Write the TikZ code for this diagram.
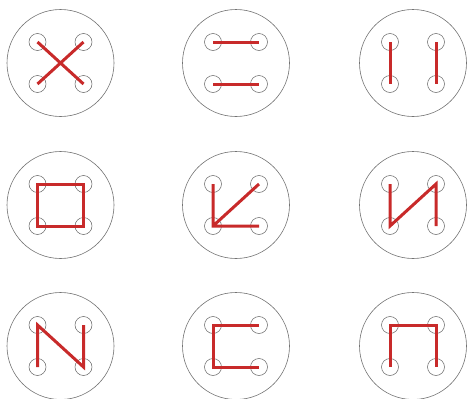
\documentclass[tikz,border=0pt]{standalone}
\definecolor{linered}{RGB}{200,42,42}
\begin{document}
\begin{tikzpicture}[x=1pt,y=-1pt,
  bigdisc/.style={circle,draw=black!55,line width=0.6pt,minimum size=107pt,inner sep=0pt},
  hole/.style={circle,draw=black!60,line width=0.5pt,minimum size=17pt,inner sep=0pt},
  stroke/.style={draw=linered,line width=3pt,line join=miter}]
\useasboundingbox (0,0) rectangle (467,399);
\foreach \n/\cx/\cy in {1/60.5/63, 2/236/63, 3/413/63, 4/60.5/205, 5/236/205, 6/413/205, 7/60.5/346, 8/236/346, 9/413/346} {
  \node[bigdisc] (c\n) at (\cx,\cy) {};
  \node[hole] (c\n-tl) at (\cx-23,\cy-21) {};
  \node[hole] (c\n-tr) at (\cx+23,\cy-21) {};
  \node[hole] (c\n-bl) at (\cx-23,\cy+21) {};
  \node[hole] (c\n-br) at (\cx+23,\cy+21) {};
}
% 1: X
\draw[stroke] (c1-tl.center) -- (c1-br.center) (c1-tr.center) -- (c1-bl.center);
% 2: two horizontals
\draw[stroke] (c2-tl.center) -- (c2-tr.center) (c2-bl.center) -- (c2-br.center);
% 3: two verticals
\draw[stroke] (c3-tl.center) -- (c3-bl.center) (c3-tr.center) -- (c3-br.center);
% 4: square
\draw[stroke] (c4-tl.center) -- (c4-tr.center) -- (c4-br.center) -- (c4-bl.center) -- cycle;
% 5: arrow-like
\draw[stroke] (c5-tl.center) -- (c5-bl.center) -- (c5-br.center) (c5-tr.center) -- (c5-bl.center);
% 6
\draw[stroke] (c6-tl.center) -- (c6-bl.center) -- (c6-tr.center) -- (c6-br.center);
% 7: N
\draw[stroke] (c7-bl.center) -- (c7-tl.center) -- (c7-br.center) -- (c7-tr.center);
% 8: C
\draw[stroke] (c8-tr.center) -- (c8-tl.center) -- (c8-bl.center) -- (c8-br.center);
% 9: arch
\draw[stroke] (c9-bl.center) -- (c9-tl.center) -- (c9-tr.center) -- (c9-br.center);
\end{tikzpicture}
\end{document}
